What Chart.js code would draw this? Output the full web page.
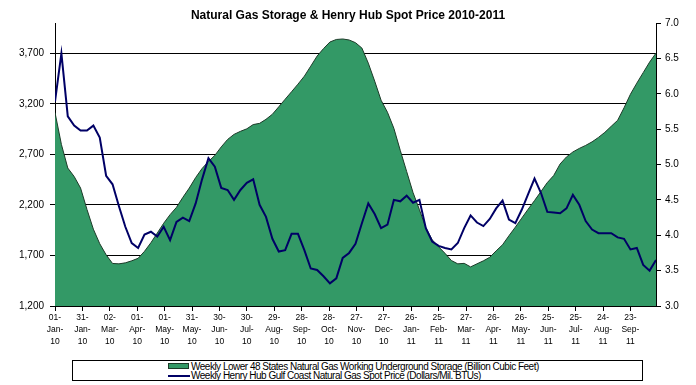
<!DOCTYPE html>
<html>
<head>
<meta charset="utf-8">
<script src="https://cdn.jsdelivr.net/npm/chart.js@4.4.1/dist/chart.umd.min.js"></script>
<style>
  body { margin: 0; background: #fff; }
  #wrap { position: relative; width: 696px; height: 385px; }
  #legend {
    position: absolute; left: 72px; top: 360px; width: 569px; height: 19px;
    border: 1px solid #000; background: #fff;
    font-family: "Liberation Sans", Arial, sans-serif; font-size: 10px; color: #000;
  }
  .row { position: absolute; left: 0; height: 9px; line-height: 9px; white-space: nowrap; }
  .sw { position: absolute; left: 95px; }
  .txt { position: absolute; left: 118px; letter-spacing: -0.5px; }
</style>
</head>
<body>
<div id="wrap">
  <canvas id="chart" width="696" height="385"></canvas>
  <div id="legend">
    <div class="row" style="top:1px"><span class="sw" style="top:1px;width:21px;height:6px;background:#339966;border:1px solid #1c3a28;box-sizing:border-box"></span><span class="txt">Weekly Lower 48 States Natural Gas Working Underground Storage  (Billion Cubic Feet)</span></div>
    <div class="row" style="top:10px"><span class="sw" style="top:4px;width:22px;height:2px;background:#000066"></span><span class="txt">Weekly Henry Hub Gulf Coast Natural Gas Spot Price (Dollars/Mil. BTUs)</span></div>
  </div>
</div>
<script>
// weekly storage, Bcf (weeks from 01-Jan-10)
const storage = [
  3114, 2799, 2565, 2481, 2367, 2156, 1960, 1816, 1706, 1621,
  1617, 1627, 1647, 1672, 1741, 1826, 1922, 2019, 2104, 2176,
  2275, 2367, 2471, 2560, 2630, 2690, 2774, 2848, 2898, 2928,
  2953, 2995, 3007, 3047, 3097, 3171, 3246, 3320, 3395, 3474,
  3573, 3673, 3747, 3812, 3837, 3842, 3832, 3805, 3752, 3603,
  3425, 3236, 3117, 2958, 2740, 2531, 2322, 2153, 1975, 1855,
  1786, 1721, 1650, 1617, 1622, 1587, 1617, 1647, 1682, 1746,
  1806, 1895, 1980, 2069, 2158, 2243, 2332, 2421, 2491, 2605,
  2675, 2724, 2759, 2789, 2824, 2868, 2918, 2978, 3037, 3161,
  3295, 3405, 3509, 3613, 3702
];
// weekly Henry Hub spot price, $/MMBtu
const price = [
  5.89, 6.57, 5.68, 5.55, 5.48, 5.48, 5.55, 5.38, 4.84, 4.72,
  4.41, 4.12, 3.89, 3.82, 4.01, 4.05, 3.98, 4.12, 3.93, 4.19,
  4.25, 4.20, 4.45, 4.79, 5.09, 4.97, 4.67, 4.64, 4.50, 4.64,
  4.74, 4.79, 4.43, 4.26, 3.95, 3.77, 3.79, 4.02, 4.02, 3.79,
  3.53, 3.51, 3.42, 3.32, 3.39, 3.68, 3.75, 3.88, 4.17, 4.45,
  4.30, 4.10, 4.15, 4.50, 4.48, 4.56, 4.46, 4.50, 4.10, 3.91,
  3.85, 3.82, 3.80, 3.89, 4.10, 4.28, 4.18, 4.13, 4.23, 4.38,
  4.49, 4.22, 4.17, 4.36, 4.58, 4.80, 4.60, 4.33, 4.32, 4.31,
  4.38, 4.57, 4.43, 4.20, 4.08, 4.03, 4.03, 4.03, 3.97, 3.95,
  3.80, 3.82, 3.58, 3.50, 3.65
];
const dateTicks = [
  '01-Jan-10', '31-Jan-10', '02-Mar-10', '01-Apr-10', '01-May-10', '31-May-10',
  '30-Jun-10', '30-Jul-10', '29-Aug-10', '28-Sep-10', '28-Oct-10', '27-Nov-10',
  '27-Dec-10', '26-Jan-11', '25-Feb-11', '27-Mar-11', '26-Apr-11', '26-May-11',
  '25-Jun-11', '25-Jul-11', '24-Aug-11', '23-Sep-11'
];
const storageTicks = [1200, 1700, 2200, 2700, 3200, 3700];

// x = days since 01-Jan-10, one point a week
const storagePts = storage.map((v, i) => ({ x: i * 7, y: v }));
const pricePts = price.map((v, i) => ({ x: i * 7, y: v }));

const axisFont = { family: 'Liberation Sans, Arial, sans-serif', size: 10 };

new Chart(document.getElementById('chart'), {
  type: 'line',
  data: {
    datasets: [
      {
        label: 'Weekly Henry Hub Gulf Coast Natural Gas Spot Price (Dollars/Mil. BTUs)',
        data: pricePts,
        yAxisID: 'y1',
        borderColor: '#000066',
        borderWidth: 2,
        pointRadius: 0,
        tension: 0,
        fill: false,
        order: 0
      },
      {
        label: 'Weekly Lower 48 States Natural Gas Working Underground Storage  (Billion Cubic Feet)',
        data: storagePts,
        yAxisID: 'y',
        borderColor: '#1c3a28',
        borderWidth: 1,
        backgroundColor: '#339966',
        pointRadius: 0,
        tension: 0,
        fill: 'start',
        order: 1
      }
    ]
  },
  options: {
    responsive: false,
    animation: false,
    layout: { padding: 0 },
    plugins: {
      legend: { display: false },
      tooltip: { enabled: false },
      title: {
        display: true,
        text: 'Natural Gas Storage & Henry Hub Spot Price 2010-2011',
        color: '#000',
        font: { family: 'Liberation Sans, Arial, sans-serif', size: 12, weight: 'bold' },
        padding: { top: 8, bottom: 0.6 }
      }
    },
    scales: {
      x: {
        type: 'linear',
        min: 0,
        max: 658,
        afterBuildTicks: function(axis) {
          axis.ticks = dateTicks.map((t, i) => ({ value: i * 30 }));
        },
        afterFit: function(axis) { axis.height = 79; },
        ticks: {
          autoSkip: false,
          maxRotation: 0,
          color: '#000',
          padding: 1,
          font: { family: 'Liberation Sans, Arial, sans-serif', size: 8.5, lineHeight: 1.4 },
          callback: function(value, index) {
            const p = dateTicks[index].split('-');
            return [p[0] + '-', p[1] + '-', p[2]];
          }
        },
        grid: { display: true, drawOnChartArea: false, drawTicks: true, tickLength: 5, color: '#000' },
        border: { display: true, color: '#000' }
      },
      y: {
        position: 'left',
        min: 1200,
        max: 4000,
        afterBuildTicks: function(axis) {
          axis.ticks = storageTicks.map(v => ({ value: v }));
        },
        afterFit: function(axis) { axis.width = 55; },
        ticks: {
          color: '#000',
          padding: 6,
          font: axisFont,
          callback: function(value) { return value.toLocaleString('en-US'); }
        },
        grid: { color: '#000', lineWidth: 1, tickLength: 5 },
        border: { display: true, color: '#000' }
      },
      y1: {
        position: 'right',
        min: 3,
        max: 7,
        ticks: {
          stepSize: 0.5,
          color: '#000',
          padding: 4,
          font: axisFont,
          callback: function(value) { return value.toFixed(1); }
        },
        afterFit: function(axis) { axis.width = 40; },
        grid: { drawOnChartArea: false, color: '#000', tickLength: 5 },
        border: { display: true, color: '#000' }
      }
    }
  }
});
</script>
</body>
</html>
